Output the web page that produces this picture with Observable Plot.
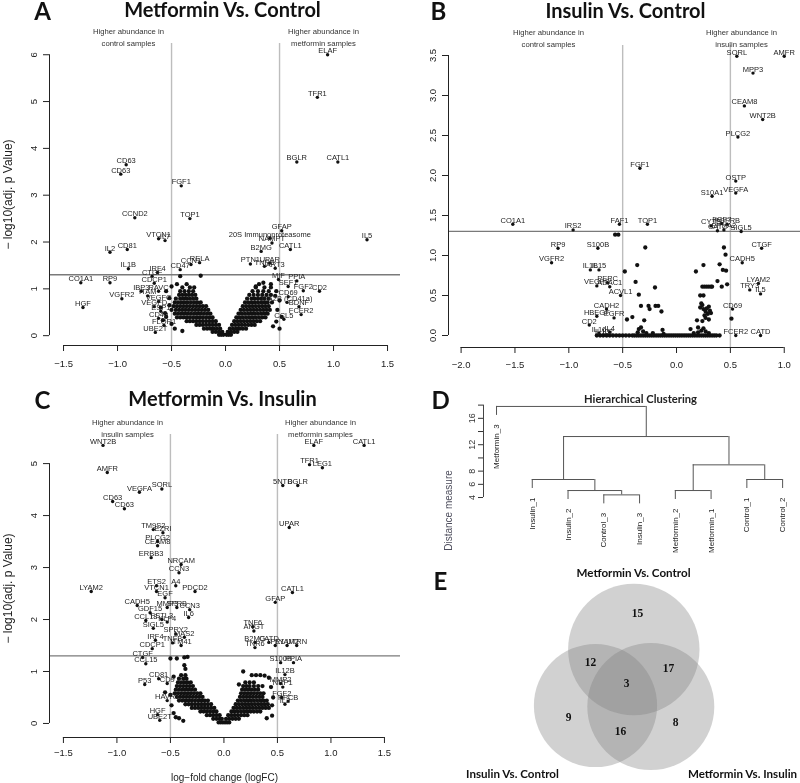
<!DOCTYPE html>
<html><head><meta charset="utf-8">
<script src="https://cdn.jsdelivr.net/npm/d3@7"></script>
<script src="https://cdn.jsdelivr.net/npm/@observablehq/plot@0.6"></script>
<style>
html,body{margin:0;padding:0;background:#fff;}
#root{position:relative;width:800px;height:783px;overflow:hidden;background:#fff;}
.panel{position:absolute;will-change:transform;}
.panel svg{display:block;max-width:none;overflow:visible;}
</style></head><body><div id="root"></div>
<script>
// ---------------- DATA ----------------
const thresholdsFC = [-0.5, 0.5];
const pCutoff = 0.05;

// Panel A: Metformin vs Control — labelled proteins [name, logFC, -log10 adj p]
const aLabeled = [
["ELAF",0.945,6.0],["TFR1",0.85,5.09],["BGLR",0.66,3.71],["CATL1",1.04,3.71],["CD63",-0.92,3.65],["CD63",-0.97,3.45],["FGF1",-0.41,3.2],
["CCND2",-0.84,2.52],["TOP1",-0.33,2.5],["GFAP",0.52,2.24],["20S Immunoproteasome",0.41,2.08],["NAMPT",0.43,1.98],["IL5",1.31,2.05],
["VTCN1",-0.62,2.07],["IL7",-0.56,2.03],["CATL1",0.6,1.84],["B2MG",0.33,1.8],["IL2",-1.07,1.78],["CD81",-0.91,1.84],["IL1B",-0.9,1.43],
["IRF4",-0.63,1.35],["CD47",-0.42,1.41],["CCN1",-0.32,1.52],["RELA",-0.24,1.56],["PTN1",0.23,1.53],["UPAR",0.41,1.55],["TNR6",0.36,1.48],["ART3",0.46,1.44],
["CO1A1",-1.34,1.13],["RP9",-1.07,1.13],["HGF",-1.32,0.6],["VGFR2",-0.96,0.79],
["CTGF",-0.68,1.27],["CDCP1",-0.66,1.12],["IBP3",-0.78,0.95],["RAVC",-0.62,0.95],["ITAM",-0.72,0.85],["VEGFC",-0.62,0.73],["VEGFD",-0.66,0.62],
["ESP1",-0.6,0.52],["CD40",-0.62,0.37],["FLOR1",-0.57,0.22],["UBE2T",-0.65,0.07],
["MIF",0.49,1.2],["PPIA",0.66,1.17],["SEF1",0.58,1.05],["FGF2",0.72,0.96],["CD2",0.87,0.95],["CD69",0.58,0.83],["ITA2B (CD41a)",0.57,0.71],
["BDNF",0.68,0.62],["FCER2",0.7,0.45],["CCL5",0.54,0.35]
];
// Panel A: unlabelled proteins, as rows [-log10 p, [logFC ...]]
const aCloudRows = [
[0.02,[-0.06,-0.04,-0.02,0.01,0.03,0.05]],
[0.08,[-0.12,-0.09,-0.06,-0.03,0.02,0.05,0.08,0.11]],
[0.15,[-0.2,-0.17,-0.14,-0.11,-0.08,-0.05,0.04,0.07,0.1,0.13,0.16,0.19]],
[0.23,[-0.27,-0.24,-0.21,-0.18,-0.15,-0.12,-0.09,-0.06,0.06,0.09,0.12,0.15,0.18,0.21,0.24,0.27]],
[0.31,[-0.36,-0.33,-0.3,-0.27,-0.24,-0.21,-0.18,-0.15,-0.12,-0.09,0.08,0.11,0.14,0.17,0.2,0.23,0.26,0.29,0.32]],
[0.39,[-0.45,-0.42,-0.39,-0.36,-0.33,-0.3,-0.27,-0.24,-0.21,-0.18,-0.15,-0.12,0.1,0.13,0.16,0.19,0.22,0.25,0.28,0.31,0.34,0.37]],
[0.47,[-0.47,-0.44,-0.41,-0.38,-0.35,-0.32,-0.29,-0.26,-0.23,-0.2,-0.17,-0.14,0.12,0.15,0.18,0.21,0.24,0.27,0.3,0.33,0.36,0.39]],
[0.55,[-0.5,-0.46,-0.43,-0.4,-0.37,-0.34,-0.31,-0.28,-0.25,-0.22,-0.19,-0.16,0.14,0.17,0.2,0.23,0.26,0.29,0.32,0.35,0.38,0.41]],
[0.63,[-0.48,-0.45,-0.42,-0.39,-0.36,-0.33,-0.3,-0.27,-0.24,-0.21,-0.18,0.16,0.19,0.22,0.25,0.28,0.31,0.34,0.37,0.4]],
[0.71,[-0.47,-0.44,-0.41,-0.38,-0.35,-0.32,-0.29,-0.26,-0.23,0.18,0.21,0.24,0.27,0.3,0.33,0.36,0.39,0.43]],
[0.79,[-0.46,-0.42,-0.39,-0.36,-0.33,-0.3,-0.27,0.2,0.24,0.27,0.3,0.33,0.36,0.4]],
[0.87,[-0.43,-0.4,-0.37,-0.34,-0.31,-0.28,0.22,0.26,0.3,0.34,0.38,0.42]],
[0.95,[-0.42,-0.38,-0.34,-0.3,0.25,0.3,0.35,0.4]],
[1.03,[-0.4,-0.33,-0.29,0.28,0.36,0.42]]
];
const aOutliers = [[-0.42,1.27],[-0.23,1.28],[-0.55,0.95],[-0.52,0.8],[-0.6,0.6],[-0.56,0.48],[-0.58,0.33],[-0.5,0.25],[-0.47,0.15],[-0.4,0.1],
[-0.52,0.65],[-0.5,1.05],[-0.45,1.1],[-0.36,1.1],[-0.55,0.4],[0.31,1.1],[0.35,1.13],[0.42,1.1],[0.47,0.95],[0.5,0.75],[0.48,0.55],[0.52,0.4],
[0.47,0.3],[0.44,0.2],[0.5,0.15],[0.46,0.85],[0.28,1.05]];

// Panel B: Insulin vs Control
const bLabeled = [
["SORL",0.56,3.49],["AMFR",1.0,3.49],["MPP3",0.71,3.28],["CEAM8",0.63,2.87],["WNT2B",0.8,2.7],["PLCG2",0.57,2.48],["FGF1",-0.34,2.09],
["OSTP",0.55,1.93],["VEGFA",0.55,1.78],["S10A1",0.33,1.74],["CO1A1",-1.52,1.39],["IRS2",-0.96,1.32],["FAF1",-0.53,1.39],["TOP1",-0.27,1.39],
["CYTB",0.32,1.37],["FGF7",0.42,1.4],["PGFRB",0.47,1.39],["CATZ",0.38,1.31],["EPHA2",0.44,1.32],["SIGL5",0.6,1.3],
["RP9",-1.1,1.09],["VGFR2",-1.16,0.91],["S100B",-0.73,1.09],["CTGF",0.79,1.09],["CADH5",0.61,0.91],
["IL1B",-0.8,0.82],["IL15",-0.72,0.82],["VEGFC",-0.74,0.62],["PERC",-0.64,0.66],["ADAC1",-0.62,0.61],["ACVL1",-0.52,0.5],
["LYAM2",0.76,0.65],["TRY3",0.68,0.57],["IL5",0.78,0.52],["CADH2",-0.65,0.33],["HBEGF",-0.74,0.24],["EGFR",-0.58,0.22],["CD2",-0.81,0.13],
["CD69",0.52,0.33],["FCER2",0.55,0.0],["CATD",0.78,0.0],["IL16",-0.72,0.03],["IL4",-0.62,0.04],["IL13",-0.69,0.0],["IL2",-0.64,0.0]
];
const bCloud = [[-0.29,1.10],[0.44,1.10],[0.455,1.01],[-0.365,0.88],[0.25,0.88],[0.40,0.89],[-0.48,0.80],[0.18,0.80],[0.43,0.82],[0.46,0.81],
[-0.38,0.67],[0.38,0.68],[0.47,0.64],[0.42,0.61],[0.24,0.61],[0.26,0.61],[0.28,0.61],[0.30,0.61],[0.32,0.61],[0.33,0.61],[-0.20,0.60],
[-0.35,0.51],[0.22,0.50],[0.25,0.50],[-0.33,0.37],[-0.26,0.37],[-0.25,0.33],[-0.195,0.37],[-0.17,0.37],[-0.14,0.30],[0.23,0.40],[0.22,0.35],
[0.25,0.33],[0.27,0.30],[0.30,0.36],[0.26,0.25],[0.32,0.28],[0.30,0.20],[0.24,0.18],[-0.46,0.20],[-0.41,0.23],[-0.30,0.19],[0.19,0.19],
[0.51,0.21],[-0.35,0.08],[-0.33,0.10],[-0.31,0.05],[-0.13,0.07],[0.13,0.08],[0.20,0.10],[0.23,0.06],[0.25,0.09],[0.27,0.05],[-0.57,1.26],
[-0.54,1.26],[0.24,0.38],[0.28,0.34],[0.31,0.31],[0.29,0.27],[0.27,0.22],[-0.36,0.04],[-0.28,0.03],[-0.22,0.03],[-0.12,0.02],[0.16,0.03],
[0.2,0.04],[0.3,0.03]];
const bZeroRow = [-0.74,-0.71,-0.68,-0.65,-0.62,-0.59,-0.56,-0.53,-0.5,-0.47,-0.44,-0.41,-0.39,-0.37,-0.35,-0.33,-0.31,-0.29,-0.27,-0.25,
-0.23,-0.21,-0.19,-0.17,-0.15,-0.13,-0.11,-0.09,-0.07,-0.05,-0.03,-0.01,0.01,0.03,0.05,0.07,0.09,0.11,0.13,0.15,0.17,0.19,0.21,0.23,0.25,
0.27,0.29,0.31,0.33,0.35,0.37,0.4];

// Panel C: Metformin vs Insulin
const cLabeled = [
["WNT2B",-1.13,5.35],["AMFR",-1.09,4.83],["VEGFA",-0.79,4.45],["SORL",-0.58,4.51],["CD63",-1.04,4.27],["CD63",-0.93,4.13],["TM9S2",-0.66,3.73],
["EZRI",-0.57,3.67],["PLCG2",-0.62,3.5],["CEAM8",-0.62,3.42],["ERBB3",-0.68,3.19],["NRCAM",-0.4,3.06],["CCN3",-0.42,2.9],
["ELAF",0.84,5.35],["CATL1",1.31,5.35],["TFR1",0.8,4.98],["LEG1",0.92,4.92],["5NTD",0.55,4.58],["BGLR",0.69,4.58],["UPAR",0.61,3.77],
["LYAM2",-1.24,2.54],["ETS2",-0.63,2.65],["VTCN1",-0.63,2.54],["A4",-0.45,2.65],["PDCD2",-0.27,2.54],["EGF",-0.55,2.42],["CADH5",-0.81,2.27],
["GDF15",-0.69,2.13],["MMP3",-0.53,2.23],["SPRB",-0.44,2.23],["CCN3",-0.32,2.19],["IL6",-0.33,2.04],["CCL18",-0.73,1.98],["FSTL3",-0.58,2.0],
["KLF4",-0.53,1.95],["SIGL5",-0.66,1.83],["SPRY2",-0.45,1.72],["MAS2",-0.37,1.66],["IRF4",-0.64,1.6],["TNFB",-0.48,1.55],["ITM41",-0.4,1.5],
["CDCP1",-0.67,1.44],["CTGF",-0.76,1.27],["CCL15",-0.73,1.15],["CD81",-0.61,0.86],["P53",-0.74,0.75],["CD9",-0.53,0.77],["HAVR1",-0.53,0.44],
["HGF",-0.62,0.17],["UBE2T",-0.6,0.06],
["CATL1",0.64,2.52],["GFAP",0.48,2.33],["TNF6",0.27,1.86],["ANGT",0.28,1.78],["B2MG",0.29,1.56],["CATD",0.42,1.56],["TNR6",0.29,1.46],
["TFR1",0.48,1.5],["LYAM2",0.59,1.5],["UTRN",0.68,1.5],["S100B",0.53,1.17],["PPIA",0.65,1.17],["IL12B",0.57,0.94],["MMP2",0.53,0.77],
["NRP1",0.55,0.7],["FGF2",0.54,0.5],["KPCB",0.6,0.43],["IL2",0.57,0.37]
];
const cCloudRows = [
[0.02,[-0.05,-0.03,-0.01,0.01,0.03,0.05]],
[0.09,[-0.1,-0.07,-0.04,-0.02,0.02,0.05,0.08,0.11,0.14]],
[0.16,[-0.16,-0.13,-0.1,-0.07,-0.04,0.04,0.07,0.1,0.13,0.16,0.19,0.22]],
[0.23,[-0.22,-0.19,-0.16,-0.13,-0.1,-0.07,0.07,0.1,0.13,0.16,0.19,0.22,0.25,0.28,0.31,0.34]],
[0.3,[-0.3,-0.27,-0.24,-0.21,-0.18,-0.15,-0.12,-0.09,0.09,0.12,0.15,0.18,0.21,0.24,0.27,0.3,0.33,0.36,0.39,0.42]],
[0.37,[-0.36,-0.33,-0.3,-0.27,-0.24,-0.21,-0.18,-0.15,-0.12,0.11,0.14,0.17,0.2,0.23,0.26,0.29,0.32,0.35,0.38,0.41]],
[0.44,[-0.42,-0.39,-0.36,-0.33,-0.3,-0.27,-0.24,-0.21,-0.18,-0.15,0.13,0.16,0.19,0.22,0.25,0.28,0.31,0.34,0.37,0.4]],
[0.51,[-0.44,-0.41,-0.38,-0.35,-0.32,-0.29,-0.26,-0.23,-0.2,0.15,0.18,0.21,0.24,0.27,0.3,0.33,0.36]],
[0.58,[-0.46,-0.43,-0.4,-0.37,-0.34,-0.31,-0.28,-0.25,-0.22,0.16,0.19,0.22,0.25,0.28,0.31,0.34,0.37]],
[0.65,[-0.45,-0.42,-0.39,-0.36,-0.33,-0.3,-0.27,0.17,0.2,0.23,0.26,0.29,0.32]],
[0.72,[-0.44,-0.41,-0.38,-0.35,-0.32,-0.29,0.18,0.21,0.24,0.28,0.32,0.36]],
[0.79,[-0.43,-0.4,-0.37,-0.34,-0.31,0.2,0.24,0.28]],
[0.86,[-0.42,-0.38,-0.35]],
[0.93,[-0.4,-0.36]]
];
const cOutliers = [[-0.5,1.25],[-0.44,1.25],[-0.37,1.27],[-0.34,1.28],[-0.37,1.12],[-0.36,1.05],[-0.47,0.9],[-0.5,0.55],[-0.49,0.35],[-0.47,0.2],
[-0.45,0.12],[-0.42,0.1],[-0.38,0.05],[-0.55,0.6],[0.18,1.0],[0.26,0.93],[0.3,0.93],[0.34,0.93],[0.38,0.92],[0.42,0.88],[0.44,0.7],[0.46,0.5],
[0.45,0.15],[0.45,0.35],[0.4,0.1],[0.14,0.75]];

// Axis ticks
const aXTicks = [-1.5,-1,-0.5,0,0.5,1,1.5], aYTicks = [0,1,2,3,4,5,6];
const bXTicks = [-2,-1.5,-1,-0.5,0,0.5,1], bYTicks = [0,0.5,1,1.5,2,2.5,3,3.5];
const cXTicks = [-1.5,-1,-0.5,0,0.5,1,1.5], cYTicks = [0,1,2,3,4,5];

// Panel D: hierarchical clustering (R hclust-style merge list; negative = leaf)
const leafNames = ["Metformin_3","Insulin_1","Insulin_2","Control_3","Insulin_3","Metformin_2","Metformin_1","Control_1","Control_2"];
const mergeSteps = [[-4,-5,4.4],[-3,1,5.06],[-2,2,6.73],[-6,-7,5.06],[-8,-9,6.73],[4,5,8.95],[3,6,13.24],[-1,7,17.8]];
const leafHang = 1.36;
const dTicks = [4,6,8,10,12,14,16,18], dTickLabels = [4,6,8,12,16];

// Panel E: Venn
const vennSets = ["Metformin Vs. Control","Insulin Vs. Control","Metformin Vs. Insulin"];
const vennCounts = [15,12,17,3,9,16,8]; // MC only, MC∩IC, MC∩MI, all three, IC only, IC∩MI, MI only

// ---------------- LAYOUT ----------------
const vennCircleLayout = [[233.3,89,65.7],[195,145,61.6],[250.3,146,63.5]];
const vennCountLayout = [[237,53],[190,102],[268,108],[226,123],[168,157],[220,171],[275,162]];
const vennSetLabelLayout = [[233,16],[112,217],[342,217]];

const SANS = "Liberation Sans, Arial, sans-serif";
const HEAD = "Lato, 'Open Sans', sans-serif";
const fmt1 = d3.format(".1f");
const toPts = arr => arr.map(([x,y]) => ({x,y}));
const rowsToPts = rows => rows.flatMap(([y, xs]) => xs.map(x => ({x, y})));
const toLab = arr => arr.map(([name,x,y]) => ({name,x,y}));

const root = document.getElementById("root");
function place(el, left, top){
  const d = document.createElement("div");
  d.className = "panel"; d.style.left = left+"px"; d.style.top = top+"px";
  d.appendChild(el); root.appendChild(d);
}

function volcano(c){
  const m = c.margin;
  const at = (px, py) => ({frameAnchor:"top-left", dx: px - m.left, dy: py - m.top});
  const last = a => a[a.length-1];
  const marks = [
    Plot.ruleX(thresholdsFC, {stroke:"#bdbdbd", strokeWidth:1.4}),
    Plot.ruleY([-Math.log10(pCutoff)], {stroke:"#7a7a7a", strokeWidth:1.3}),
    Plot.dot(c.cloud, {x:"x", y:"y", r:2.15, fill:"#111"}),
    Plot.dot(c.labeled, {x:"x", y:"y", r:1.7, fill:"#111"}),
    Plot.text(c.labeled, {x:"x", y:"y", text:"name", dy:-4, fontSize:7.5, fill:"#222", fontFamily:SANS}),
    Plot.ruleX([c.xDomain[0]], {y1:c.yTicks[0], y2:last(c.yTicks), stroke:"#222", strokeWidth:1}),
    Plot.ruleY([c.yDomain[0]], {x1:c.xTicks[0], x2:last(c.xTicks), stroke:"#222", strokeWidth:1}),
    Plot.axisX({ticks:c.xTicks, tickFormat:fmt1, tickSize:6, tickPadding:c.xPad, fontSize:9.5, label:null}),
    Plot.axisY({ticks:c.yTicks, tickFormat:c.yFmt, tickSize:6, tickPadding:7, tickRotate:-90, fontSize:9.5, label:null}),
    Plot.text([c.title], {...at(c.titlePos[0], c.titlePos[1]), textAnchor:"middle", fontSize:20, fontWeight:700, fontFamily:HEAD, lineAnchor:"bottom", fill:"#111"}),
    Plot.text([c.letter], {...at(c.letterPos[0], c.letterPos[1]), textAnchor:"middle", fontSize:24, fontWeight:700, fontFamily:HEAD, lineAnchor:"bottom", fill:"#111"}),
    Plot.text([c.notes[0]], {...at(c.notePos[0][0], c.notePos[0][1]), textAnchor:"middle", fontSize:7.7, lineHeight:1.45, lineAnchor:"bottom", fill:"#333", fontFamily:SANS}),
    Plot.text([c.notes[1]], {...at(c.notePos[1][0], c.notePos[1][1]), textAnchor:"middle", fontSize:7.7, lineHeight:1.45, lineAnchor:"bottom", fill:"#333", fontFamily:SANS})
  ];
  if (c.ylabel) marks.push(Plot.text([c.ylabel], {...at(c.ylabelPos[0], c.ylabelPos[1]), rotate:-90, textAnchor:"middle", lineAnchor:"middle", fontSize:12, fill:"#222", fontFamily:SANS}));
  if (c.xlabel) marks.push(Plot.text([c.xlabel], {...at(c.xlabelPos[0], c.xlabelPos[1]), textAnchor:"middle", lineAnchor:"middle", fontSize:10, fill:"#222", fontFamily:SANS}));
  return Plot.plot({
    width:c.W, height:c.H, marginTop:m.top, marginRight:m.right, marginBottom:m.bottom, marginLeft:m.left,
    x:{domain:c.xDomain, label:null}, y:{domain:c.yDomain, label:null},
    style:{fontFamily:SANS, fontSize:"9.5px", color:"#222", background:"transparent", overflow:"visible"},
    marks
  });
}

// Panel A
place(volcano({
  W:400, H:390, margin:{top:43,right:0,bottom:45,left:49},
  xDomain:[-1.63,1.62], yDomain:[-0.21,6.24], xTicks:aXTicks, yTicks:aYTicks, yFmt:d3.format("d"), xPad:9,
  cloud:[...rowsToPts(aCloudRows), ...toPts(aOutliers)], labeled:toLab(aLabeled),
  title:"Metformin Vs. Control", titlePos:[222,16], letter:"A", letterPos:[42,19],
  notes:["Higher abundance in\ncontrol samples","Higher abundance in\nmetformin samples"], notePos:[[128,45],[323,45]],
  ylabel:"− log10(adj. p Value)", ylabelPos:[8,194]
}), 0, 0);

// Panel B
place(volcano({
  W:400, H:390, margin:{top:45,right:0,bottom:43,left:48},
  xDomain:[-2.117,1.151], yDomain:[-0.15,3.625], xTicks:bXTicks, yTicks:bYTicks, yFmt:fmt1, xPad:8,
  cloud:[...toPts(bCloud), ...bZeroRow.map(x => ({x, y:0}))], labeled:toLab(bLabeled),
  title:"Insulin Vs. Control", titlePos:[225,17], letter:"B", letterPos:[38,19],
  notes:["Higher abundance in\ncontrol samples","Higher abundance in\ninsulin samples"], notePos:[[148,46],[341,46]]
}), 400, 0);

// Panel C
place(volcano({
  W:400, H:393, margin:{top:44,right:0,bottom:46,left:49},
  xDomain:[-1.63,1.65], yDomain:[-0.27,5.56], xTicks:cXTicks, yTicks:cYTicks, yFmt:d3.format("d"), xPad:6,
  cloud:[...rowsToPts(cCloudRows), ...toPts(cOutliers)], labeled:toLab(cLabeled),
  title:"Metformin Vs. Insulin", titlePos:[222,15], letter:"C", letterPos:[42,18],
  notes:["Higher abundance in\ninsulin samples","Higher abundance in\nmetformin samples"], notePos:[[127,46],[320,46]],
  ylabel:"− log10(adj. p Value)", ylabelPos:[8,198],
  xlabel:"log−fold change (logFC)", xlabelPos:[224,387]
}), 0, 390);

// Panel D: dendrogram
(function(){
  const mx = [], hseg = [], vseg = [], leaves = [];
  const xOf = k => k < 0 ? -k : mx[k-1];
  mergeSteps.forEach(([a,b,h]) => {
    for (const k of [a,b]) {
      const bottom = k < 0 ? h - leafHang : mergeSteps[k-1][2];
      vseg.push({x:xOf(k), y1:h, y2:bottom});
      if (k < 0) leaves.push({name:leafNames[-k-1], x:xOf(k), y:bottom});
    }
    hseg.push({x1:xOf(a), x2:xOf(b), y:h});
    mx.push((xOf(a)+xOf(b))/2);
  });
  const m = {top:20,right:0,bottom:70,left:83};
  const at = (px, py) => ({frameAnchor:"top-left", dx: px - m.left, dy: py - m.top});
  const yDomain = [3.55,18.7], xDomain = [0.636,9.5];
  place(Plot.plot({
    width:400, height:190, marginTop:m.top, marginRight:m.right, marginBottom:m.bottom, marginLeft:m.left,
    x:{domain:xDomain, axis:null}, y:{domain:yDomain, label:null},
    style:{fontFamily:SANS, fontSize:"9px", color:"#333", background:"transparent", overflow:"visible"},
    marks:[
      Plot.ruleY(hseg, {y:"y", x1:"x1", x2:"x2", stroke:"#555", strokeWidth:1}),
      Plot.ruleX(vseg, {x:"x", y1:"y1", y2:"y2", stroke:"#555", strokeWidth:1}),
      Plot.text(leaves, {x:"x", y:"y", text:"name", rotate:-90, textAnchor:"end", lineAnchor:"middle", dy:9, fontSize:8, fill:"#222", fontFamily:SANS}),
      Plot.ruleX([xDomain[0]], {y1:dTicks[0], y2:dTicks[dTicks.length-1], stroke:"#444"}),
      Plot.axisY({ticks:dTicks, tickFormat:d => dTickLabels.includes(d) ? String(d) : "", tickSize:5, tickPadding:4, tickRotate:-90, fontSize:9, label:null}),
      Plot.text(["Distance measure"], {...at(448-400, 510-380), rotate:-90, textAnchor:"middle", lineAnchor:"middle", fontSize:10, fill:"#4d4d5c", fontFamily:SANS}),
      Plot.text(["Hierarchical Clustering"], {...at(240, 22), textAnchor:"middle", fontSize:11.2, fontWeight:700, fontFamily:HEAD, lineAnchor:"bottom", fill:"#222"}),
      Plot.text(["D"], {...at(40, 28), textAnchor:"middle", fontSize:24, fontWeight:700, fontFamily:HEAD, lineAnchor:"bottom", fill:"#111"})
    ]
  }), 400, 380);
})();

// Panel E: Venn
(function(){
  const circles = vennCircleLayout.map(([cx,cy,r],i) => ({set:vennSets[i], cx, cy, r}));
  const counts = vennCounts.map((n,i) => ({n, cx:vennCountLayout[i][0], cy:vennCountLayout[i][1]}));
  const setLabels = vennSets.map((s,i) => ({s, cx:vennSetLabelLayout[i][0], cy:vennSetLabelLayout[i][1]}));
  place(Plot.plot({
    width:400, height:223, margin:0,
    x:{domain:[0,400], range:[0,400], axis:null}, y:{domain:[0,223], range:[0,223], axis:null},
    r:{type:"linear", domain:[0,100], range:[0,100]},
    style:{fontFamily:SANS, background:"transparent", overflow:"visible"},
    marks:[
      Plot.dot(circles, {x:"cx", y:"cy", r:"r", fill:"#7f7f7f", fillOpacity:0.36, stroke:"none"}),
      Plot.text(counts, {x:"cx", y:"cy", text:"n", fontSize:11.5, fontWeight:700, fontFamily:"Liberation Serif, serif", fill:"#111"}),
      Plot.text(setLabels, {x:"cx", y:"cy", text:"s", fontSize:11.6, fontWeight:700, fontFamily:HEAD, lineAnchor:"bottom", fill:"#111"}),
      Plot.text(["E"], {frameAnchor:"top-left", dx:40, dy:29, textAnchor:"middle", fontSize:24, fontWeight:700, fontFamily:HEAD, lineAnchor:"bottom", fill:"#111"})
    ]
  }), 400, 560);
})();
</script></body></html>
